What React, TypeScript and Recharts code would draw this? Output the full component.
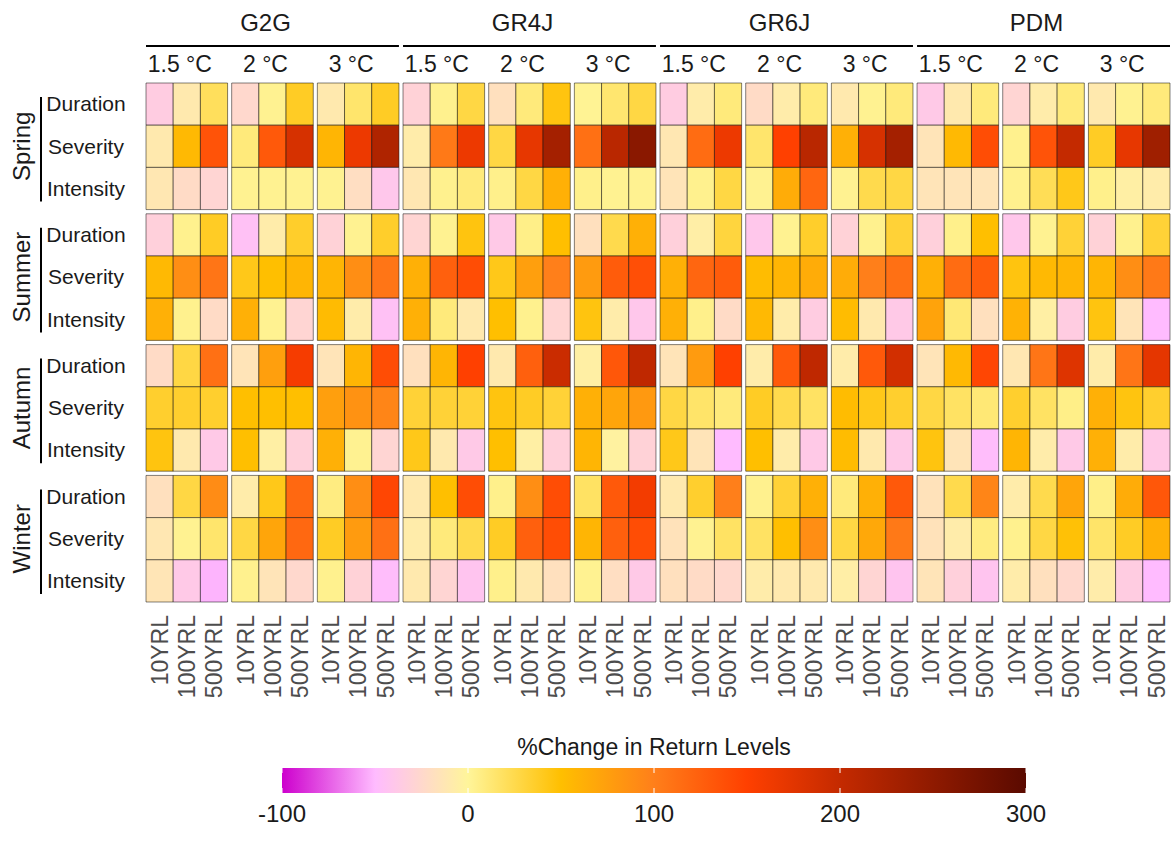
import React from 'react';
import { ScatterChart, Scatter, XAxis, YAxis, ReferenceArea } from 'recharts';

// ---------- data ----------
const MODELS = ['G2G', 'GR4J', 'GR6J', 'PDM'];
const WARMING = ['1.5 °C', '2 °C', '3 °C'];
const RETURN_LEVELS = ['10YRL', '100YRL', '500YRL'];
const SEASONS = ['Spring', 'Summer', 'Autumn', 'Winter'];
const VARIABLES = ['Duration', 'Severity', 'Intensity'];

// rows: season x variable (12); columns: warming x return level (9)
const G2G_VALUES = [
  [-35, -10, 20, -25, 3, 38, -10, 15, 38],
  [-10, 55, 135, 10, 130, 185, 58, 165, 220],
  [-12, -22, -28, 3, 3, 3, 3, -20, -40],
  [-32, 4, 38, -45, -8, 36, -30, 3, 36],
  [55, 88, 108, 42, 50, 58, 58, 88, 108],
  [62, 4, -22, 62, 3, -28, 53, -8, -45],
  [-22, 28, 112, -15, 75, 158, -15, 58, 140],
  [35, 35, 35, 50, 50, 50, 75, 85, 95],
  [45, -10, -38, 50, -5, -32, 62, 3, -28],
  [-18, 28, 90, -8, 42, 118, 8, 88, 145],
  [-12, 3, 15, 28, 70, 118, 38, 78, 112],
  [-14, -38, -52, 4, -15, -25, 4, -30, -48],
];
const GR4J_VALUES = [
  [-30, 4, 28, -18, 10, 45, 2, 14, 28],
  [-8, 105, 165, 28, 170, 230, 112, 210, 255],
  [-12, 4, 10, 5, 28, 62, 5, 3, 3],
  [-28, 3, 45, -38, 6, 50, -18, 25, 62],
  [62, 125, 140, 42, 75, 100, 78, 128, 138],
  [62, 10, -10, 50, 4, -28, 45, -8, -40],
  [-18, 58, 150, -10, 125, 195, -5, 132, 205],
  [32, 32, 32, 45, 38, 32, 62, 70, 80],
  [42, -10, -38, 50, -5, -32, 58, -3, -30],
  [-10, 50, 140, 5, 88, 140, 18, 130, 160],
  [-8, 10, 25, 38, 125, 140, 58, 125, 140],
  [-10, -28, -42, 5, -10, -18, 3, -20, -38],
];
const GR6J_VALUES = [
  [-35, -8, 10, -22, -8, 10, -10, 3, 10],
  [-12, 115, 165, 15, 150, 210, 62, 185, 230],
  [-15, 4, 28, 3, 65, 120, 3, 25, 28],
  [-32, -6, 30, -40, 3, 36, -30, 4, 32],
  [62, 120, 128, 52, 58, 65, 65, 100, 112],
  [62, 5, -22, 55, -8, -35, 52, -10, -38],
  [-15, 78, 150, -8, 130, 205, -8, 130, 188],
  [28, 16, 10, 38, 25, 18, 52, 42, 35],
  [42, -15, -50, 50, -8, -38, 52, -10, -38],
  [-10, 35, 100, 4, 32, 62, 10, 62, 130],
  [-16, 3, 18, 18, 50, 88, 28, 68, 105],
  [-18, -22, -25, -8, -10, -10, -6, -28, -42],
];
const PDM_VALUES = [
  [-38, -10, 10, -28, -8, 10, -10, 3, 10],
  [-15, 55, 140, 4, 135, 200, 38, 170, 235],
  [-15, -15, -15, 4, 22, 42, 5, -5, -8],
  [-32, 5, 50, -40, 3, 32, -30, 4, 32],
  [62, 115, 128, 45, 55, 58, 58, 88, 105],
  [72, 12, -18, 60, -5, -35, 45, -15, -50],
  [-15, 55, 145, -12, 108, 178, -8, 108, 172],
  [28, 18, 12, 35, 18, 6, 62, 45, 35],
  [45, -15, -48, 58, -8, -38, 62, -8, -38],
  [-16, 25, 95, -8, 25, 70, 6, 65, 132],
  [-16, -8, 8, 4, 28, 48, 16, 38, 62],
  [-15, -32, -42, -8, -18, -25, -8, -35, -50],
];
const MODEL_VALUES = [G2G_VALUES, GR4J_VALUES, GR6J_VALUES, PDM_VALUES];

const COLOR_STOPS = [-100, -50, 0, 50, 100, 150, 200, 300];
const COLOR_HEX = ['#cd00cd', '#ffbbff', '#fff59a', '#ffbf00', '#ff7f1a', '#ff4000', '#c42a00', '#5a0a00'];
const LEGEND_TICKS = [-100, 0, 100, 200, 300];
const LEGEND_TITLE = '%Change in Return Levels';

// ---------- layout ----------
const W = 1173;
const H = 845;
const PLOT_LEFT = 146;
const PLOT_RIGHT = 1170;
const PLOT_TOP = 83;
const PLOT_BOTTOM = 602;
const GAP_X = 0.15;
const GAP_Y = 0.1;
const X_MAX = 36 + 11 * GAP_X;
const Y_MAX = 12 + 3 * GAP_Y;
const PX_X = (PLOT_RIGHT - PLOT_LEFT) / X_MAX;
const PX_Y = (PLOT_BOTTOM - PLOT_TOP) / Y_MAX;
const STRIP_TEXT_SHIFT = -7;
const FONT = 'Liberation Sans, Arial, Helvetica, sans-serif';

const hexToRgb = (h: string) => [1, 3, 5].map((i) => parseInt(h.slice(i, i + 2), 16));
const colorFor = (v: number) => {
  const c = Math.max(COLOR_STOPS[0], Math.min(COLOR_STOPS[COLOR_STOPS.length - 1], v));
  let i = 0;
  while (i < COLOR_STOPS.length - 2 && c > COLOR_STOPS[i + 1]) i++;
  const t = (c - COLOR_STOPS[i]) / (COLOR_STOPS[i + 1] - COLOR_STOPS[i]);
  const a = hexToRgb(COLOR_HEX[i]);
  const b = hexToRgb(COLOR_HEX[i + 1]);
  const rgb = a.map((x, k) => Math.round(x + (b[k] - x) * t));
  return `rgb(${rgb[0]},${rgb[1]},${rgb[2]})`;
};

const colStart = (m: number, w: number, r: number) => (m * 3 + w) * (3 + GAP_X) + r;
const rowStart = (s: number, v: number) => s * (3 + GAP_Y) + v;

const cells: { x1: number; x2: number; y1: number; y2: number; value: number; key: string }[] = [];
MODEL_VALUES.forEach((rows, m) => {
  rows.forEach((row, ri) => {
    const s = Math.floor(ri / 3);
    const v = ri % 3;
    row.forEach((val, ci) => {
      const w = Math.floor(ci / 3);
      const r = ci % 3;
      const x1 = colStart(m, w, r);
      const y1 = rowStart(s, v);
      cells.push({ x1, x2: x1 + 1, y1, y2: y1 + 1, value: val, key: `${m}-${ri}-${ci}` });
    });
  });
});

const xTicks: number[] = [];
MODELS.forEach((_, m) => WARMING.forEach((__, w) => RETURN_LEVELS.forEach((___, r) => xTicks.push(colStart(m, w, r) + 0.5))));
const topTicks: number[] = [];
MODELS.forEach((_, m) => WARMING.forEach((__, w) => topTicks.push(colStart(m, w, 0) + 1.5)));
const yTicks: number[] = [];
SEASONS.forEach((_, s) => VARIABLES.forEach((__, v) => yTicks.push(rowStart(s, v) + 0.5)));

const centers = cells.map((c) => ({ x: c.x1 + 0.5, y: c.y1 + 0.5 }));
const topCenters = topTicks.map((x) => ({ x, y: 0.5 }));

const BottomTick = (props: any) => {
  const { x, y, payload } = props;
  const val = payload.value as number;
  const g = Math.floor(val / (3 + GAP_X));
  const r = Math.floor(val - g * (3 + GAP_X));
  return (
    <text
      transform={`translate(${x},${y + 13}) rotate(-90)`}
      textAnchor="end"
      dy="0.36em"
      fontSize={23}
      fill="#4d4d4d"
      fontFamily={FONT}
    >
      {RETURN_LEVELS[r]}
    </text>
  );
};

const TopTick = (props: any) => {
  const { x, y, payload } = props;
  const val = payload.value as number;
  const g = Math.round((val - 1.5) / (3 + GAP_X));
  const w = g % 3;
  const m = Math.floor(g / 3);
  const half = ((9 + 2 * GAP_X) / 2) * PX_X;
  return (
    <g>
      <text x={x + STRIP_TEXT_SHIFT} y={y - 11} textAnchor="middle" fontSize={23} fill="#1a1a1a" fontFamily={FONT}>
        {WARMING[w]}
      </text>
      {w === 1 && (
        <g>
          <line x1={x - half} x2={x + half} y1={y - 37} y2={y - 37} stroke="#000" strokeWidth={1.8} />
          <text x={x + STRIP_TEXT_SHIFT} y={y - 52} textAnchor="middle" fontSize={24} fill="#1a1a1a" fontFamily={FONT}>
            {MODELS[m]}
          </text>
        </g>
      )}
    </g>
  );
};

const LeftTick = (props: any) => {
  const { y, payload } = props;
  const val = payload.value as number;
  const s = Math.floor(val / (3 + GAP_Y));
  const v = Math.floor(val - s * (3 + GAP_Y));
  return (
    <g>
      <text x={86} y={y} dy="0.35em" textAnchor="middle" fontSize={21} fill="#1a1a1a" fontFamily={FONT}>
        {VARIABLES[v]}
      </text>
      {v === 1 && (
        <g>
          <line x1={41} x2={41} y1={y - 1.5 * PX_Y + 14} y2={y + 1.5 * PX_Y - 8} stroke="#000" strokeWidth={2} />
          <text
            transform={`translate(22,${y}) rotate(-90)`}
            textAnchor="middle"
            dy="0.35em"
            fontSize={24}
            fill="#1a1a1a"
            fontFamily={FONT}
          >
            {SEASONS[s]}
          </text>
        </g>
      )}
    </g>
  );
};

const LEG_X0 = 282;
const LEG_X1 = 1026;
const legendX = (v: number) =>
  LEG_X0 + ((v - LEGEND_TICKS[0]) / (LEGEND_TICKS[LEGEND_TICKS.length - 1] - LEGEND_TICKS[0])) * (LEG_X1 - LEG_X0);

const ColorBar = () => {
  const lo = COLOR_STOPS[0];
  const hi = COLOR_STOPS[COLOR_STOPS.length - 1];
  return (
    <svg width={W} height={125} style={{ position: 'absolute', left: 0, top: 720 }}>
      <defs>
        <linearGradient id="cbar" x1="0" x2="1" y1="0" y2="0">
          {COLOR_STOPS.map((s, i) => (
            <stop key={s} offset={(s - lo) / (hi - lo)} stopColor={COLOR_HEX[i]} />
          ))}
        </linearGradient>
      </defs>
      <text x={(LEG_X0 + LEG_X1) / 2} y={35} textAnchor="middle" fontSize={23} fill="#1a1a1a" fontFamily={FONT}>
        {LEGEND_TITLE}
      </text>
      <rect x={LEG_X0} y={48} width={LEG_X1 - LEG_X0} height={25} fill="url(#cbar)" />
      {LEGEND_TICKS.map((t) => (
        <g key={t}>
          <line x1={legendX(t)} x2={legendX(t)} y1={48} y2={53} stroke="#fff" strokeWidth={1} />
          <line x1={legendX(t)} x2={legendX(t)} y1={68} y2={73} stroke="#fff" strokeWidth={1} />
          <text x={legendX(t)} y={102} textAnchor="middle" fontSize={24} fill="#1a1a1a" fontFamily={FONT}>
            {t}
          </text>
        </g>
      ))}
    </svg>
  );
};

export default function App() {
  return (
    <div style={{ position: 'absolute', left: 0, top: 0, width: W, height: H, background: '#fff' }}>
      <ScatterChart
        width={W}
        height={H}
        margin={{ top: 0, right: W - PLOT_RIGHT, left: PLOT_LEFT - 140, bottom: H - PLOT_BOTTOM - 100 }}
      >
        <XAxis
          type="number"
          dataKey="x"
          domain={[0, X_MAX]}
          allowDataOverflow
          ticks={xTicks}
          interval={0}
          height={100}
          axisLine={false}
          tickLine={false}
          tickSize={0}
          tickMargin={0}
          tick={<BottomTick />}
        />
        <XAxis
          xAxisId="top"
          orientation="top"
          type="number"
          dataKey="x"
          domain={[0, X_MAX]}
          allowDataOverflow
          ticks={topTicks}
          interval={0}
          height={PLOT_TOP}
          axisLine={false}
          tickLine={false}
          tickSize={0}
          tickMargin={0}
          tick={<TopTick />}
        />
        <YAxis
          type="number"
          dataKey="y"
          domain={[0, Y_MAX]}
          reversed
          allowDataOverflow
          ticks={yTicks}
          interval={0}
          width={140}
          axisLine={false}
          tickLine={false}
          tickSize={0}
          tickMargin={0}
          tick={<LeftTick />}
        />
        {cells.map((c) => (
          <ReferenceArea
            key={c.key}
            x1={c.x1}
            x2={c.x2}
            y1={c.y1}
            y2={c.y2}
            fill={colorFor(c.value)}
            fillOpacity={1}
            stroke="rgba(0,0,0,0.55)"
            strokeWidth={0.9}
            ifOverflow="visible"
          />
        ))}
        <Scatter data={centers} shape={() => <g />} isAnimationActive={false} />
        <Scatter xAxisId="top" data={topCenters} shape={() => <g />} isAnimationActive={false} />
      </ScatterChart>
      <ColorBar />
    </div>
  );
}
